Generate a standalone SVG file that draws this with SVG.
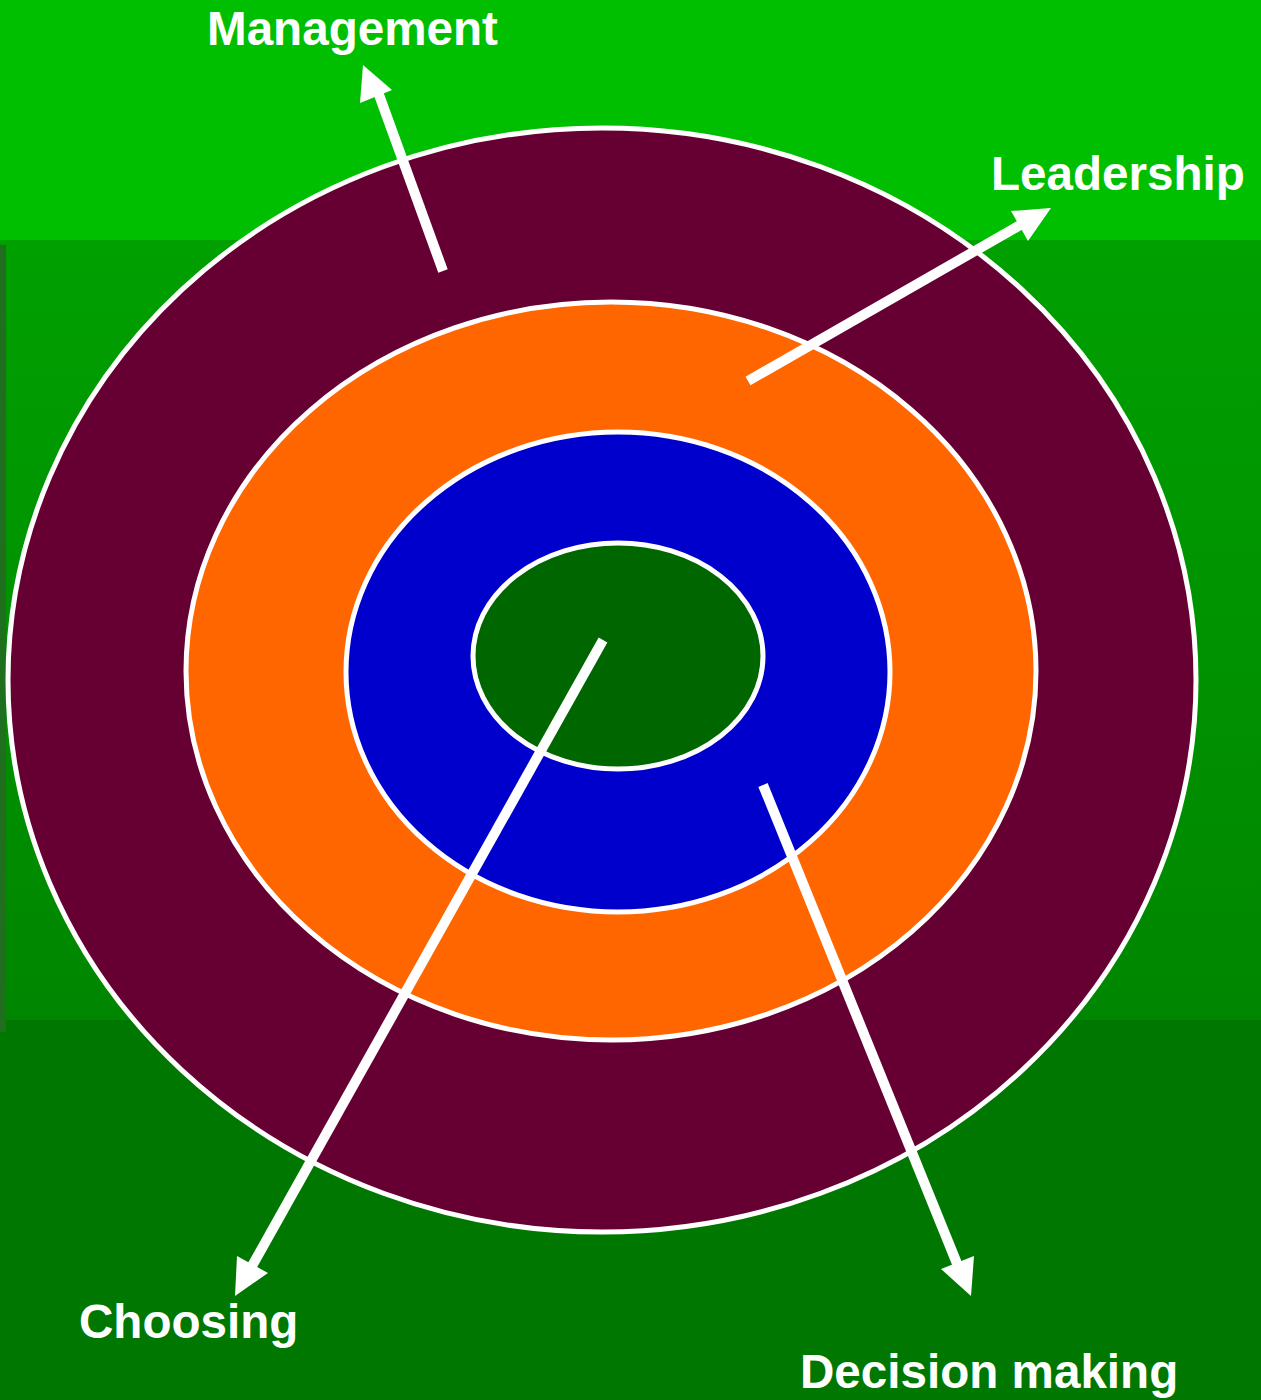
<svg xmlns="http://www.w3.org/2000/svg" width="1261" height="1400" viewBox="0 0 1261 1400">
<defs>
<linearGradient id="mid" x1="0" y1="0" x2="0" y2="1">
<stop offset="0" stop-color="#00A000"/>
<stop offset="1" stop-color="#008600"/>
</linearGradient>
</defs>
<style>
.ring{stroke:#FFFFFF;stroke-width:5}
.conn{stroke:#FFFFFF;stroke-width:10;fill:none}
.head{fill:#FFFFFF}
.lbl{font-family:"Liberation Sans",Arial,sans-serif;font-weight:bold;font-size:47.6px;fill:#FFFFFF}
</style>
<g id="background">
<rect x="0" y="0" width="1261" height="1400" fill="#007700"/>
<rect x="0" y="0" width="1261" height="242" fill="#00BF00"/>
<rect x="0" y="240" width="1261" height="780" fill="url(#mid)"/>
<rect x="0" y="245" width="6" height="787" fill="#1F6F1F"/>
</g>
<g id="management-ring"><ellipse class="ring" cx="602" cy="680" rx="594" ry="552" fill="#660033"/></g>
<g id="leadership-ring"><ellipse class="ring" cx="611" cy="671" rx="425" ry="369" fill="#FF6600"/></g>
<g id="decision-ring"><ellipse class="ring" cx="618" cy="672" rx="272" ry="240" fill="#0000CC"/></g>
<g id="choosing-core"><ellipse class="ring" cx="618" cy="656" rx="145" ry="113" fill="#006600"/></g>
<g id="connectors">
<line class="conn" x1="443" y1="271" x2="378" y2="92"/>
<polygon class="head" points="363,65 360,103 392,90"/>
<line class="conn" x1="748" y1="381" x2="1022" y2="224"/>
<polygon class="head" points="1051,208 1011,211 1028,241"/>
<line class="conn" x1="603" y1="640" x2="252" y2="1266"/>
<polygon class="head" points="235,1296 237,1256 268,1273"/>
<line class="conn" x1="763" y1="785" x2="958" y2="1266"/>
<polygon class="head" points="971,1296 941,1269 974,1256"/>
</g>
<g id="labels">
<text class="lbl" x="207" y="45">Management</text>
<text class="lbl" x="991" y="190">Leadership</text>
<text class="lbl" x="79" y="1338">Choosing</text>
<text class="lbl" x="800" y="1388">Decision making</text>
</g>
</svg>
